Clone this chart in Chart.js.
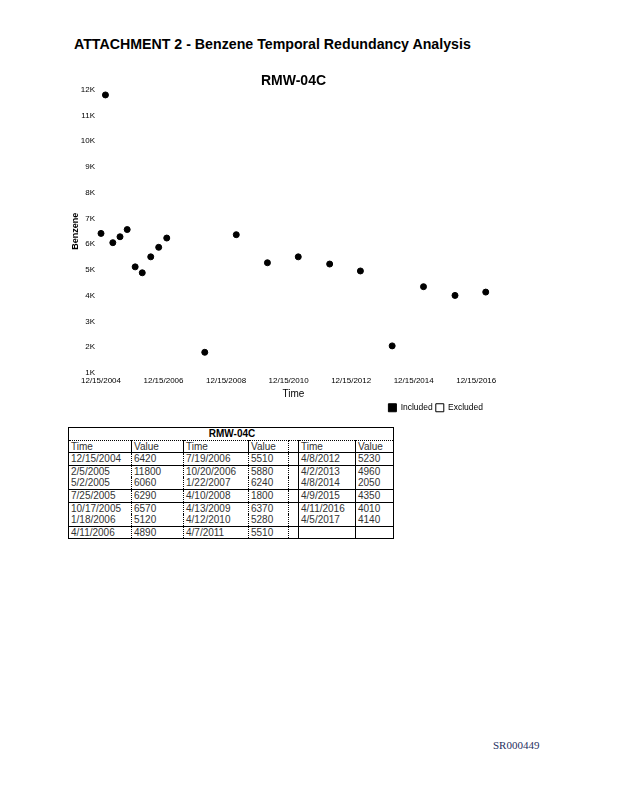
<!DOCTYPE html>
<html>
<head>
<meta charset="utf-8">
<title>RMW-04C</title>
<script src="https://cdn.jsdelivr.net/npm/chart.js@4.4.1/dist/chart.umd.min.js"></script>
<style>
  body { margin: 0; background: #fff; width: 618px; height: 800px; position: relative; font-family: "Liberation Sans", Arial, sans-serif; }
  #doc-title { position: absolute; left: 74px; top: 36px; font-size: 14.2px; font-weight: bold; color: #000; white-space: nowrap; }
  #chart-box { position: absolute; left: 60px; top: 62px; width: 440px; height: 360px; }
  #data-table { position: absolute; left: 68px; top: 427px; width: 325px; border-collapse: collapse; border: 1px solid #000; font-size: 10px; color: #333; table-layout: fixed; }
  #data-table td { height: 11.6px; line-height: 11.6px; padding: 0 0 0 2px; white-space: nowrap; overflow: hidden; border-left: 1px solid #000; }
  #data-table td.dash { border-left: 1px dotted #000; }
  #data-table tr.cap td { text-align: center; font-weight: bold; border-bottom: 1px dotted #000; color: #000; }
  #data-table tr.line td { border-bottom: 1px solid #000; }
  #footer { position: absolute; left: 493px; top: 739px; font-family: "Liberation Serif", "Times New Roman", serif; font-size: 11px; color: #1f2f60; }
</style>
</head>
<body>
<div id="doc-title">ATTACHMENT 2 - Benzene Temporal Redundancy Analysis</div>
<div id="chart-box"><canvas id="myChart"></canvas></div>
<table id="data-table">
  <colgroup>
    <col style="width:63px"><col style="width:52px"><col style="width:65px"><col style="width:40px">
    <col style="width:10px"><col style="width:57px"><col style="width:38px">
  </colgroup>
  <tbody id="table-body"></tbody>
</table>
<div id="footer">SR000449</div>

<script>
// sample dates and benzene results
var sampleDates = ['12/15/2004', '2/5/2005', '5/2/2005', '7/25/2005', '10/17/2005', '1/18/2006', '4/11/2006',
  '7/19/2006', '10/20/2006', '1/22/2007', '4/10/2008', '4/13/2009', '4/12/2010', '4/7/2011',
  '4/8/2012', '4/2/2013', '4/8/2014', '4/9/2015', '4/11/2016', '4/5/2017']
var benzeneValues = [6420, 11800, 6060, 6290, 6570, 5120, 4890,
  5510, 5880, 6240, 1800, 6370, 5280, 5510,
  5230, 4960, 2050, 4350, 4010, 4140]

var xTickLabels = ['12/15/2004', '12/15/2006', '12/15/2008', '12/15/2010', '12/15/2012', '12/15/2014', '12/15/2016']
var xRange = ['12/15/2004', '4/8/2017']
var yTickValues = [1000, 2000, 3000, 4000, 5000, 6000, 7000, 8000, 9000, 10000, 11000, 12000]

function toTime (s) {
  var p = s.split('/').map(Number)
  return Date.UTC(p[2], p[0] - 1, p[1])
}

// table: three column groups of seven rows
var body = document.getElementById('table-body')
var cap = document.createElement('tr')
cap.className = 'cap'
cap.innerHTML = '<td colspan="7">RMW-04C</td>'
body.appendChild(cap)
var head = document.createElement('tr')
head.className = 'line'
head.innerHTML = '<td>Time</td><td>Value</td><td>Time</td><td>Value</td><td class="dash"></td><td>Time</td><td>Value</td>'
body.appendChild(head)
var lineRows = [0, 2, 3, 5, 6]
for (var r = 0; r < 7; r++) {
  var tr = document.createElement('tr')
  if (lineRows.indexOf(r) >= 0) tr.className = 'line'
  var cells = ''
  for (var g = 0; g < 3; g++) {
    var i = g * 7 + r
    var t = i < sampleDates.length ? sampleDates[i] : ''
    var v = i < benzeneValues.length ? benzeneValues[i] : ''
    if (g === 2) cells += '<td class="dash"></td>'
    cells += '<td' + (g === 1 ? ' class="dash"' : '') + '>' + t + '</td>'
    cells += '<td' + (g < 2 ? ' class="dash"' : '') + '>' + v + '</td>'
  }
  tr.innerHTML = cells
  body.appendChild(tr)
}

var font = 'Liberation Sans, Arial, sans-serif'
var ctx = document.getElementById('myChart')
var myChart = new Chart(ctx, {
  type: 'scatter',
  data: {
    datasets: [{
      label: 'Included',
      data: sampleDates.map(function (d, i) { return { x: toTime(d), y: benzeneValues[i] } }),
      backgroundColor: '#000',
      borderColor: '#000',
      borderWidth: 1,
      pointRadius: 3,
      pointHoverRadius: 3,
      clip: false
    }, {
      label: 'Excluded',
      data: [],
      backgroundColor: '#fff',
      borderColor: '#000',
      borderWidth: 1,
      borderDash: [1, 1]
    }]
  },
  options: {
    responsive: true,
    maintainAspectRatio: false,
    animation: false,
    layout: { padding: { right: 14, bottom: 0 } },
    plugins: {
      title: {
        display: true,
        text: 'RMW-04C',
        fullSize: false,
        color: '#000',
        font: { family: font, size: 14, weight: 'bold' },
        padding: { top: 11, bottom: 0 }
      },
      legend: {
        position: 'bottom',
        align: 'end',
        labels: {
          boxWidth: 8,
          boxHeight: 8,
          padding: 3,
          color: '#000',
          font: { family: font, size: 8.5 }
        }
      },
      tooltip: { enabled: false }
    },
    scales: {
      x: {
        type: 'linear',
        min: toTime(xRange[0]),
        max: toTime(xRange[1]),
        grid: { display: false, drawTicks: false },
        border: { display: false },
        afterBuildTicks: function (axis) {
          axis.ticks = xTickLabels.map(function (l) { return { value: toTime(l) } })
        },
        ticks: {
          autoSkip: false,
          maxRotation: 0,
          padding: 3,
          color: '#000',
          font: { family: font, size: 8 },
          callback: function (value, index) { return xTickLabels[index] }
        },
        title: {
          display: true,
          text: 'Time',
          color: '#000',
          font: { family: font, size: 10 },
          padding: { top: 0, bottom: 0 }
        }
      },
      y: {
        min: yTickValues[0],
        max: yTickValues[yTickValues.length - 1],
        grid: { display: false, drawTicks: false },
        border: { display: false },
        afterBuildTicks: function (axis) {
          axis.ticks = yTickValues.map(function (v) { return { value: v } })
        },
        afterFit: function (axis) { axis.width = 41 },
        ticks: {
          padding: 6,
          color: '#000',
          font: { family: font, size: 8 },
          callback: function (value) { return (value / 1000) + 'K' }
        },
        title: {
          display: true,
          text: 'Benzene',
          color: '#000',
          font: { family: font, size: 9, weight: 'bold' },
          padding: 10
        }
      }
    }
  }
})
</script>
</body>
</html>
